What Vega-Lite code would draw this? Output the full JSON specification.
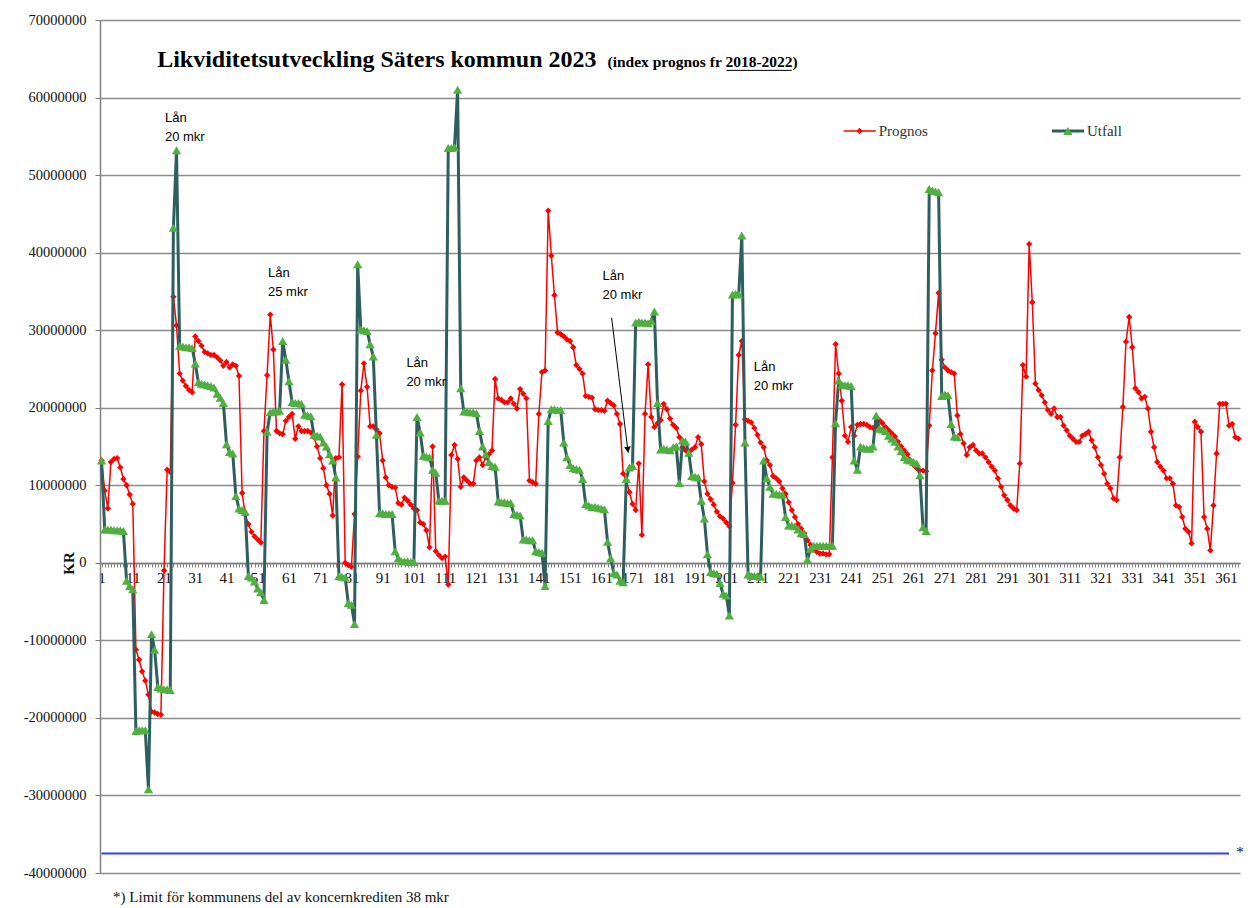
{
"$schema": "https://vega.github.io/schema/vega-lite/v6.json",
"width": 1140, "height": 853,
"autosize": {"type": "none"},
"padding": {"left": 100, "top": 20, "right": 12, "bottom": 35},
"background": "white",
"config": {
 "view": {"stroke": null},
 "font": "Liberation Serif",
 "axisX": {"offset": -310, "tickCount": 365, "labelExpr": "(datum.value - 1) % 10 === 0 ? '' + datum.value : ''", "labelOverlap": false, "labelFont": "Liberation Serif", "labelFontSize": 15, "labelColor": "#111", "domainColor": "#7f7f7f", "domainWidth": 1.5, "tickColor": "#7f7f7f", "tickSize": 4, "labelPadding": 3, "grid": false, "labelBound": false, "labelFlush": false},
 "axisY": {"tickCount": 11, "labelExpr": "'' + datum.value", "grid": true, "gridColor": "#8c8c8c", "gridWidth": 1.5, "domainColor": "#7f7f7f", "domainWidth": 1.5, "tickColor": "#7f7f7f", "tickSize": 5, "labelFont": "Liberation Serif", "labelFontSize": 14.5, "labelColor": "#111", "labelPadding": 9, "titleFont": "Liberation Serif", "titleFontWeight": "bold", "titleFontSize": 15, "titleColor": "#111", "titleX": -32, "titleY": 543, "titleAngle": 270, "titleAlign": "center", "titleBaseline": "middle"}
},
"data": {"values": [
{"d":1,"P":13200000,"U":13200000},{"d":2,"P":9300000,"U":4300000},{"d":3,"P":7000000,"U":4300000},{"d":4,"P":13000000,"U":4300000},{"d":5,"P":13400000,"U":4200000},{"d":6,"P":13500000,"U":4200000},{"d":7,"P":12300000,"U":4200000},{"d":8,"P":10800000,"U":4100000},{"d":9,"P":10000000,"U":-2300000},{"d":10,"P":8800000,"U":-3000000},
{"d":11,"P":7600000,"U":-3400000},{"d":12,"P":-11200000,"U":-21700000},{"d":13,"P":-12500000,"U":-21600000},{"d":14,"P":-14000000,"U":-21600000},{"d":15,"P":-15200000,"U":-21600000},{"d":16,"P":-17000000,"U":-29200000},{"d":17,"P":-19200000,"U":-9200000},{"d":18,"P":-19300000,"U":-11200000},{"d":19,"P":-19500000,"U":-16000000},{"d":20,"P":-19600000,"U":-16200000},
{"d":21,"P":-1000000,"U":-16300000},{"d":22,"P":12000000,"U":-16300000},{"d":23,"P":11700000,"U":-16400000},{"d":24,"P":34300000,"U":43200000},{"d":25,"P":30600000,"U":53200000},{"d":26,"P":24400000,"U":28000000},{"d":27,"P":23500000,"U":27900000},{"d":28,"P":22800000,"U":27800000},{"d":29,"P":22300000,"U":27800000},{"d":30,"P":22000000,"U":27700000},
{"d":31,"P":29200000,"U":25700000},{"d":32,"P":28600000,"U":23300000},{"d":33,"P":28000000,"U":23100000},{"d":34,"P":27200000,"U":23000000},{"d":35,"P":27000000,"U":22900000},{"d":36,"P":26800000,"U":22800000},{"d":37,"P":26800000,"U":22600000},{"d":38,"P":26500000,"U":21800000},{"d":39,"P":26100000,"U":21300000},{"d":40,"P":25400000,"U":20600000},
{"d":41,"P":25900000,"U":15300000},{"d":42,"P":25200000,"U":14300000},{"d":43,"P":25600000,"U":14100000},{"d":44,"P":25400000,"U":8600000},{"d":45,"P":24100000,"U":7000000},{"d":46,"P":9000000,"U":6800000},{"d":47,"P":6200000,"U":6600000},{"d":48,"P":5000000,"U":-1700000},{"d":49,"P":4000000,"U":-1900000},{"d":50,"P":3400000,"U":-2400000},
{"d":51,"P":3000000,"U":-3300000},{"d":52,"P":2600000,"U":-3800000},{"d":53,"P":17000000,"U":-4800000},{"d":54,"P":24200000,"U":16900000},{"d":55,"P":32000000,"U":19400000},{"d":56,"P":27500000,"U":19500000},{"d":57,"P":17000000,"U":19500000},{"d":58,"P":16700000,"U":19600000},{"d":59,"P":16600000,"U":28600000},{"d":60,"P":18300000,"U":26200000},
{"d":61,"P":18800000,"U":23400000},{"d":62,"P":19200000,"U":20700000},{"d":63,"P":16000000,"U":20600000},{"d":64,"P":17600000,"U":20600000},{"d":65,"P":17000000,"U":20500000},{"d":66,"P":17000000,"U":19100000},{"d":67,"P":17000000,"U":19000000},{"d":68,"P":16800000,"U":18900000},{"d":69,"P":16200000,"U":16500000},{"d":70,"P":15000000,"U":16400000},
{"d":71,"P":13500000,"U":16300000},{"d":72,"P":12200000,"U":15500000},{"d":73,"P":10000000,"U":15000000},{"d":74,"P":8900000,"U":14000000},{"d":75,"P":6100000,"U":13200000},{"d":76,"P":13500000,"U":11000000},{"d":77,"P":13600000,"U":-1700000},{"d":78,"P":23000000,"U":-1800000},{"d":79,"P":0,"U":-1900000},{"d":80,"P":-300000,"U":-5200000},
{"d":81,"P":-500000,"U":-5400000},{"d":82,"P":6300000,"U":-7900000},{"d":83,"P":13700000,"U":38500000},{"d":84,"P":22200000,"U":30100000},{"d":85,"P":25700000,"U":30000000},{"d":86,"P":22700000,"U":29900000},{"d":87,"P":17600000,"U":28200000},{"d":88,"P":17600000,"U":26600000},{"d":89,"P":17200000,"U":16500000},{"d":90,"P":16700000,"U":6400000},
{"d":91,"P":13200000,"U":6400000},{"d":92,"P":11000000,"U":6300000},{"d":93,"P":10000000,"U":6300000},{"d":94,"P":9800000,"U":6300000},{"d":95,"P":9700000,"U":1500000},{"d":96,"P":7700000,"U":600000},{"d":97,"P":7500000,"U":200000},{"d":98,"P":8400000,"U":200000},{"d":99,"P":8000000,"U":200000},{"d":100,"P":7500000,"U":100000},
{"d":101,"P":7000000,"U":100000},{"d":102,"P":6800000,"U":18800000},{"d":103,"P":5200000,"U":16800000},{"d":104,"P":5000000,"U":13800000},{"d":105,"P":4200000,"U":13700000},{"d":106,"P":2000000,"U":13600000},{"d":107,"P":15000000,"U":12000000},{"d":108,"P":1500000,"U":11600000},{"d":109,"P":1000000,"U":8000000},{"d":110,"P":600000,"U":8000000},
{"d":111,"P":800000,"U":8000000},{"d":112,"P":-2800000,"U":53500000},{"d":113,"P":13900000,"U":53500000},{"d":114,"P":15200000,"U":53600000},{"d":115,"P":13400000,"U":61000000},{"d":116,"P":9800000,"U":22500000},{"d":117,"P":11000000,"U":19500000},{"d":118,"P":10600000,"U":19500000},{"d":119,"P":10200000,"U":19400000},{"d":120,"P":10200000,"U":19400000},
{"d":121,"P":13200000,"U":19300000},{"d":122,"P":13600000,"U":17000000},{"d":123,"P":12600000,"U":15000000},{"d":124,"P":13600000,"U":14000000},{"d":125,"P":14000000,"U":13000000},{"d":126,"P":14500000,"U":12500000},{"d":127,"P":23700000,"U":12400000},{"d":128,"P":21200000,"U":7900000},{"d":129,"P":21000000,"U":7800000},{"d":130,"P":20700000,"U":7800000},
{"d":131,"P":20700000,"U":7700000},{"d":132,"P":21200000,"U":7700000},{"d":133,"P":20500000,"U":6300000},{"d":134,"P":19900000,"U":6200000},{"d":135,"P":22400000,"U":6100000},{"d":136,"P":21800000,"U":3000000},{"d":137,"P":21200000,"U":3000000},{"d":138,"P":10600000,"U":2900000},{"d":139,"P":10400000,"U":2900000},{"d":140,"P":10200000,"U":1500000},
{"d":141,"P":19200000,"U":1400000},{"d":142,"P":24600000,"U":1300000},{"d":143,"P":24800000,"U":-3000000},{"d":144,"P":45400000,"U":18300000},{"d":145,"P":39600000,"U":19800000},{"d":146,"P":34500000,"U":19800000},{"d":147,"P":29700000,"U":19700000},{"d":148,"P":29500000,"U":19700000},{"d":149,"P":29200000,"U":15500000},{"d":150,"P":28800000,"U":13600000},
{"d":151,"P":28600000,"U":12600000},{"d":152,"P":27800000,"U":12200000},{"d":153,"P":25500000,"U":12100000},{"d":154,"P":25000000,"U":12000000},{"d":155,"P":24400000,"U":10800000},{"d":156,"P":21500000,"U":7600000},{"d":157,"P":21400000,"U":7400000},{"d":158,"P":21300000,"U":7200000},{"d":159,"P":19800000,"U":7200000},{"d":160,"P":19700000,"U":7100000},
{"d":161,"P":19700000,"U":7000000},{"d":162,"P":19600000,"U":6900000},{"d":163,"P":20900000,"U":2700000},{"d":164,"P":20600000,"U":600000},{"d":165,"P":20300000,"U":-1300000},{"d":166,"P":19200000,"U":-1500000},{"d":167,"P":17900000,"U":-2300000},{"d":168,"P":11500000,"U":-2500000},{"d":169,"P":10600000,"U":10800000},{"d":170,"P":9100000,"U":12300000},
{"d":171,"P":7600000,"U":12500000},{"d":172,"P":6800000,"U":31000000},{"d":173,"P":12800000,"U":31100000},{"d":174,"P":3600000,"U":31000000},{"d":175,"P":19200000,"U":31000000},{"d":176,"P":25600000,"U":30900000},{"d":177,"P":18800000,"U":31200000},{"d":178,"P":17500000,"U":32400000},{"d":179,"P":18000000,"U":20600000},{"d":180,"P":18400000,"U":14600000},
{"d":181,"P":20500000,"U":14700000},{"d":182,"P":19800000,"U":14600000},{"d":183,"P":18600000,"U":14500000},{"d":184,"P":17800000,"U":14900000},{"d":185,"P":17400000,"U":15000000},{"d":186,"P":16200000,"U":10300000},{"d":187,"P":14900000,"U":15800000},{"d":188,"P":14500000,"U":15600000},{"d":189,"P":14200000,"U":14200000},{"d":190,"P":14600000,"U":11200000},
{"d":191,"P":14900000,"U":11100000},{"d":192,"P":16200000,"U":11000000},{"d":193,"P":15300000,"U":8000000},{"d":194,"P":10500000,"U":5700000},{"d":195,"P":8900000,"U":1100000},{"d":196,"P":8200000,"U":-1200000},{"d":197,"P":7500000,"U":-1300000},{"d":198,"P":6600000,"U":-1400000},{"d":199,"P":6000000,"U":-2600000},{"d":200,"P":5700000,"U":-4000000},
{"d":201,"P":5200000,"U":-4200000},{"d":202,"P":4700000,"U":-6800000},{"d":203,"P":10300000,"U":34600000},{"d":204,"P":17800000,"U":34700000},{"d":205,"P":26800000,"U":34600000},{"d":206,"P":28600000,"U":42200000},{"d":207,"P":18500000,"U":15500000},{"d":208,"P":18300000,"U":-1500000},{"d":209,"P":18100000,"U":-1700000},{"d":210,"P":17400000,"U":-1700000},
{"d":211,"P":16500000,"U":-1700000},{"d":212,"P":15500000,"U":-1800000},{"d":213,"P":14900000,"U":13200000},{"d":214,"P":13200000,"U":10900000},{"d":215,"P":12600000,"U":9800000},{"d":216,"P":11200000,"U":8900000},{"d":217,"P":10900000,"U":8900000},{"d":218,"P":10500000,"U":8800000},{"d":219,"P":9600000,"U":8800000},{"d":220,"P":8900000,"U":5900000},
{"d":221,"P":7800000,"U":4800000},{"d":222,"P":6800000,"U":4800000},{"d":223,"P":5900000,"U":4700000},{"d":224,"P":5000000,"U":4300000},{"d":225,"P":4400000,"U":3800000},{"d":226,"P":3800000,"U":3700000},{"d":227,"P":2900000,"U":400000},{"d":228,"P":2300000,"U":1800000},{"d":229,"P":1800000,"U":2200000},{"d":230,"P":1400000,"U":2200000},
{"d":231,"P":1200000,"U":2200000},{"d":232,"P":1200000,"U":2200000},{"d":233,"P":1100000,"U":2200000},{"d":234,"P":1100000,"U":2200000},{"d":235,"P":13600000,"U":2200000},{"d":236,"P":28200000,"U":18000000},{"d":237,"P":24400000,"U":23500000},{"d":238,"P":20900000,"U":23000000},{"d":239,"P":16400000,"U":22900000},{"d":240,"P":15600000,"U":22900000},
{"d":241,"P":17500000,"U":22800000},{"d":242,"P":16400000,"U":13200000},{"d":243,"P":17800000,"U":12000000},{"d":244,"P":17900000,"U":15000000},{"d":245,"P":17900000,"U":14800000},{"d":246,"P":17800000,"U":14700000},{"d":247,"P":17500000,"U":14700000},{"d":248,"P":17400000,"U":15000000},{"d":249,"P":17600000,"U":19000000},{"d":250,"P":18400000,"U":17300000},
{"d":251,"P":18000000,"U":17200000},{"d":252,"P":17500000,"U":17000000},{"d":253,"P":17100000,"U":16400000},{"d":254,"P":16700000,"U":16000000},{"d":255,"P":16300000,"U":15600000},{"d":256,"P":15600000,"U":15000000},{"d":257,"P":15000000,"U":14400000},{"d":258,"P":14500000,"U":13600000},{"d":259,"P":14000000,"U":13300000},{"d":260,"P":13200000,"U":13200000},
{"d":261,"P":12600000,"U":13000000},{"d":262,"P":12200000,"U":12800000},{"d":263,"P":11900000,"U":11300000},{"d":264,"P":11900000,"U":4600000},{"d":265,"P":11800000,"U":4100000},{"d":266,"P":17700000,"U":48200000},{"d":267,"P":24800000,"U":48000000},{"d":268,"P":29600000,"U":47900000},{"d":269,"P":34800000,"U":47800000},{"d":270,"P":26200000,"U":21500000},
{"d":271,"P":25200000,"U":21700000},{"d":272,"P":24800000,"U":21600000},{"d":273,"P":24600000,"U":17900000},{"d":274,"P":24400000,"U":16300000},{"d":275,"P":19000000,"U":16200000},{"d":276,"P":16600000},{"d":277,"P":15400000},{"d":278,"P":13900000},{"d":279,"P":14900000},{"d":280,"P":15200000},
{"d":281,"P":14500000},{"d":282,"P":14100000},{"d":283,"P":14100000},{"d":284,"P":13600000},{"d":285,"P":13000000},{"d":286,"P":12400000},{"d":287,"P":11900000},{"d":288,"P":10900000},{"d":289,"P":9800000},{"d":290,"P":8700000},
{"d":291,"P":8100000},{"d":292,"P":7400000},{"d":293,"P":7000000},{"d":294,"P":6800000},{"d":295,"P":12800000},{"d":296,"P":25500000},{"d":297,"P":24000000},{"d":298,"P":41100000},{"d":299,"P":33600000},{"d":300,"P":23100000},
{"d":301,"P":22300000},{"d":302,"P":21600000},{"d":303,"P":20700000},{"d":304,"P":19700000},{"d":305,"P":19200000},{"d":306,"P":19900000},{"d":307,"P":18800000},{"d":308,"P":18800000},{"d":309,"P":17700000},{"d":310,"P":17100000},
{"d":311,"P":16400000},{"d":312,"P":16000000},{"d":313,"P":15600000},{"d":314,"P":15600000},{"d":315,"P":16400000},{"d":316,"P":16600000},{"d":317,"P":16900000},{"d":318,"P":15800000},{"d":319,"P":14900000},{"d":320,"P":13600000},
{"d":321,"P":12600000},{"d":322,"P":11500000},{"d":323,"P":10200000},{"d":324,"P":9600000},{"d":325,"P":8300000},{"d":326,"P":8100000},{"d":327,"P":13600000},{"d":328,"P":20100000},{"d":329,"P":28500000},{"d":330,"P":31700000},
{"d":331,"P":27800000},{"d":332,"P":22500000},{"d":333,"P":22000000},{"d":334,"P":21200000},{"d":335,"P":21400000},{"d":336,"P":19900000},{"d":337,"P":16900000},{"d":338,"P":14900000},{"d":339,"P":13000000},{"d":340,"P":12400000},
{"d":341,"P":11900000},{"d":342,"P":10900000},{"d":343,"P":10900000},{"d":344,"P":10200000},{"d":345,"P":7400000},{"d":346,"P":7200000},{"d":347,"P":5900000},{"d":348,"P":4400000},{"d":349,"P":4000000},{"d":350,"P":2500000},
{"d":351,"P":18200000},{"d":352,"P":17500000},{"d":353,"P":16900000},{"d":354,"P":5900000},{"d":355,"P":4400000},{"d":356,"P":1600000},{"d":357,"P":7400000},{"d":358,"P":14100000},{"d":359,"P":20500000},{"d":360,"P":20500000},
{"d":361,"P":20500000},{"d":362,"P":17700000},{"d":363,"P":17900000},{"d":364,"P":16200000},{"d":365,"P":16000000}
]},
"layer": [
 {"data": {"values": [{"d":1,"limit":-37500000},{"d":362,"limit":-37500000}]},
  "mark": {"type":"line","color":"#3a3aff","strokeWidth":2},
  "encoding": {"x":{"field":"d","type":"quantitative","scale":{"domain":[0.5,365.5],"nice":false,"zero":false},"title":null},
               "y":{"field":"limit","type":"quantitative","scale":{"domain":[-40000000,70000000],"nice":false,"zero":false},"title":"KR"}}},
 {"mark": {"type":"line","color":"#ff0000","strokeWidth":1.5},
  "encoding": {"x":{"field":"d","type":"quantitative","scale":{"domain":[0.5,365.5],"nice":false,"zero":false},"title":null},
               "y":{"field":"P","type":"quantitative","scale":{"domain":[-40000000,70000000],"nice":false,"zero":false},"title":"KR"}}},
 {"mark": {"type":"point","shape":"diamond","filled":true,"color":"#ff0000","size":40,"opacity":1},
  "encoding": {"x":{"field":"d","type":"quantitative","scale":{"domain":[0.5,365.5],"nice":false,"zero":false},"title":null},
               "y":{"field":"P","type":"quantitative","scale":{"domain":[-40000000,70000000],"nice":false,"zero":false},"title":"KR"}}},
 {"transform": [{"filter":"datum.U != null"}],
  "mark": {"type":"line","color":"#2f5e5e","strokeWidth":3},
  "encoding": {"x":{"field":"d","type":"quantitative","scale":{"domain":[0.5,365.5],"nice":false,"zero":false},"title":null},
               "y":{"field":"U","type":"quantitative","scale":{"domain":[-40000000,70000000],"nice":false,"zero":false},"title":"KR"}}},
 {"transform": [{"filter":"datum.U != null"}],
  "mark": {"type":"point","shape":"triangle-up","filled":true,"color":"#4fb040","size":85,"opacity":1},
  "encoding": {"x":{"field":"d","type":"quantitative","scale":{"domain":[0.5,365.5],"nice":false,"zero":false},"title":null},
               "y":{"field":"U","type":"quantitative","scale":{"domain":[-40000000,70000000],"nice":false,"zero":false},"title":"KR"}}},
 {"data": {"values": [{"d":21.3,"v":56900000,"t":"Lån\n20 mkr"},{"d":54.3,"v":36800000,"t":"Lån\n25 mkr"},{"d":98.6,"v":25300000,"t":"Lån\n20 mkr"},{"d":161.4,"v":36500000,"t":"Lån\n20 mkr"},{"d":209.8,"v":24800000,"t":"Lån\n20 mkr"}]},
  "mark": {"type":"text","align":"left","baseline":"alphabetic","font":"Liberation Sans","fontSize":13,"lineBreak":"\n","lineHeight":19,"color":"#000"},
  "encoding": {"x":{"field":"d","type":"quantitative","scale":{"domain":[0.5,365.5],"nice":false,"zero":false},"title":null},
               "y":{"field":"v","type":"quantitative","scale":{"domain":[-40000000,70000000],"nice":false,"zero":false},"title":"KR"},
               "text":{"field":"t"}}},
 {"data": {"values": [{"d":164.3,"v":31600000,"d2":169.6,"v2":14200000}]},
  "mark": {"type":"rule","color":"#000","strokeWidth":1},
  "encoding": {"x":{"field":"d","type":"quantitative","scale":{"domain":[0.5,365.5],"nice":false,"zero":false},"title":null},
               "y":{"field":"v","type":"quantitative","scale":{"domain":[-40000000,70000000],"nice":false,"zero":false},"title":"KR"},
               "x2":{"field":"d2"},"y2":{"field":"v2"}}},
 {"data": {"values": [{"d":169.5,"v":14600000}]},
  "mark": {"type":"point","shape":"triangle-down","filled":true,"color":"#000","size":45,"angle":353,"opacity":1},
  "encoding": {"x":{"field":"d","type":"quantitative","scale":{"domain":[0.5,365.5],"nice":false,"zero":false},"title":null},
               "y":{"field":"v","type":"quantitative","scale":{"domain":[-40000000,70000000],"nice":false,"zero":false},"title":"KR"}}},
 {"data": {"values": [{"d":18.8,"v":63900000,"t":"Likviditetsutveckling Säters kommun 2023"}]},
  "mark": {"type":"text","align":"left","baseline":"alphabetic","font":"Liberation Serif","fontWeight":"bold","fontSize":24,"color":"#000"},
  "encoding": {"x":{"field":"d","type":"quantitative","scale":{"domain":[0.5,365.5],"nice":false,"zero":false},"title":null},
               "y":{"field":"v","type":"quantitative","scale":{"domain":[-40000000,70000000],"nice":false,"zero":false},"title":"KR"},
               "text":{"field":"t"}}},
 {"data": {"values": [{"d":163,"v":63900000,"t":"(index prognos fr 2018-2022)"}]},
  "mark": {"type":"text","align":"left","baseline":"alphabetic","font":"Liberation Serif","fontWeight":"bold","fontSize":15.5,"color":"#000"},
  "encoding": {"x":{"field":"d","type":"quantitative","scale":{"domain":[0.5,365.5],"nice":false,"zero":false},"title":null},
               "y":{"field":"v","type":"quantitative","scale":{"domain":[-40000000,70000000],"nice":false,"zero":false},"title":"KR"},
               "text":{"field":"t"}}},
 {"data": {"values": [{"d":201.1,"d2":222,"v":63500000}]},
  "mark": {"type":"rule","color":"#000","strokeWidth":1},
  "encoding": {"x":{"field":"d","type":"quantitative","scale":{"domain":[0.5,365.5],"nice":false,"zero":false},"title":null},
               "y":{"field":"v","type":"quantitative","scale":{"domain":[-40000000,70000000],"nice":false,"zero":false},"title":"KR"},
               "x2":{"field":"d2"}}},
 {"data": {"values": [{"d":238.6,"d2":248.9,"v":55700000}]},
  "mark": {"type":"rule","color":"#ff0000","strokeWidth":1.5},
  "encoding": {"x":{"field":"d","type":"quantitative","scale":{"domain":[0.5,365.5],"nice":false,"zero":false},"title":null},
               "y":{"field":"v","type":"quantitative","scale":{"domain":[-40000000,70000000],"nice":false,"zero":false},"title":"KR"},
               "x2":{"field":"d2"}}},
 {"data": {"values": [{"d":243.7,"v":55700000}]},
  "mark": {"type":"point","shape":"diamond","filled":true,"color":"#ff0000","size":40,"opacity":1},
  "encoding": {"x":{"field":"d","type":"quantitative","scale":{"domain":[0.5,365.5],"nice":false,"zero":false},"title":null},
               "y":{"field":"v","type":"quantitative","scale":{"domain":[-40000000,70000000],"nice":false,"zero":false},"title":"KR"}}},
 {"data": {"values": [{"d":305.3,"d2":315.6,"v":55700000}]},
  "mark": {"type":"rule","color":"#2f5e5e","strokeWidth":3},
  "encoding": {"x":{"field":"d","type":"quantitative","scale":{"domain":[0.5,365.5],"nice":false,"zero":false},"title":null},
               "y":{"field":"v","type":"quantitative","scale":{"domain":[-40000000,70000000],"nice":false,"zero":false},"title":"KR"},
               "x2":{"field":"d2"}}},
 {"data": {"values": [{"d":310.4,"v":55700000}]},
  "mark": {"type":"point","shape":"triangle-up","filled":true,"color":"#4fb040","size":85,"opacity":1},
  "encoding": {"x":{"field":"d","type":"quantitative","scale":{"domain":[0.5,365.5],"nice":false,"zero":false},"title":null},
               "y":{"field":"v","type":"quantitative","scale":{"domain":[-40000000,70000000],"nice":false,"zero":false},"title":"KR"}}},
 {"data": {"values": [{"d":249.8,"v":55700000,"t":"Prognos"},{"d":316.5,"v":55700000,"t":"Utfall"}]},
  "mark": {"type":"text","align":"left","baseline":"middle","font":"Liberation Serif","fontSize":15,"color":"#333"},
  "encoding": {"x":{"field":"d","type":"quantitative","scale":{"domain":[0.5,365.5],"nice":false,"zero":false},"title":null},
               "y":{"field":"v","type":"quantitative","scale":{"domain":[-40000000,70000000],"nice":false,"zero":false},"title":"KR"},
               "text":{"field":"t"}}},
 {"data": {"values": [{"d":4.7,"v":-43100000,"t":"*) Limit för kommunens del av koncernkrediten 38 mkr"},{"d":364.3,"v":-37300000,"t":"*"}]},
  "mark": {"type":"text","align":"left","baseline":"middle","font":"Liberation Serif","fontSize":15,"color":"#111"},
  "encoding": {"x":{"field":"d","type":"quantitative","scale":{"domain":[0.5,365.5],"nice":false,"zero":false},"title":null},
               "y":{"field":"v","type":"quantitative","scale":{"domain":[-40000000,70000000],"nice":false,"zero":false},"title":"KR"},
               "text":{"field":"t"}}}
]
}
